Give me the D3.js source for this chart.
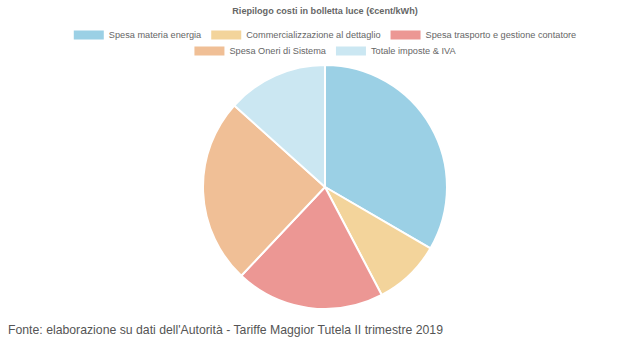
<!DOCTYPE html>
<html>
<head>
<meta charset="utf-8">
<script src="https://cdn.jsdelivr.net/npm/d3@7"></script>
<style>
  body { margin: 0; background: #fff; }
  svg { display: block; font-family: "Liberation Sans", Arial, sans-serif; }
</style>
</head>
<body>
<div id="chart"></div>
<script>
// Data (€cent/kWh)
const categories = [
    "Spesa materia energia",
    "Commercializzazione al dettaglio",
    "Spesa trasporto e gestione contatore",
    "Spesa Oneri di Sistema",
    "Totale imposte & IVA"
];
const values = [6.85, 1.83, 4.05, 5.05, 2.74];
const colors = ["#9bd0e5", "#f3d49b", "#ec9794", "#f0bf96", "#cbe7f2"];

const width = 620, height = 345;
const cx = 325, cy = 187, radius = 122;

const svg = d3.select("#chart")
    .append("svg")
    .attr("width", width)
    .attr("height", height);

// Title
svg.append("text")
    .attr("x", 325)
    .attr("y", 14)
    .attr("text-anchor", "middle")
    .attr("fill", "#666")
    .style("font-size", "9.1px")
    .style("font-weight", "bold")
    .text("Riepilogo costi in bolletta luce (€cent/kWh)");

// Legend: two centred rows like the original
const rows = [[0, 1, 2], [3, 4]];
const rowY = [35, 51];
const boxW = 30, boxH = 9, gapBox = 5, gapItem = 10;
const legend = svg.append("g").attr("class", "legend");

rows.forEach((row, r) => {
    const g = legend.append("g");
    let x = 0;
    row.forEach(i => {
        g.append("rect")
            .attr("x", x)
            .attr("y", rowY[r] - boxH / 2)
            .attr("width", boxW)
            .attr("height", boxH)
            .attr("fill", colors[i]);
        const t = g.append("text")
            .attr("x", x + boxW + gapBox)
            .attr("y", rowY[r] + 3.3)
            .attr("fill", "#666")
            .style("font-size", "9.2px")
            .text(categories[i]);
        x += boxW + gapBox + t.node().getComputedTextLength() + gapItem;
    });
    const rowWidth = x - gapItem;
    g.attr("transform", `translate(${cx - rowWidth / 2},0)`);
});

// Pie
const pie = d3.pie().sort(null).value(d => d);
const arc = d3.arc().innerRadius(0).outerRadius(radius);

svg.append("g")
    .attr("transform", `translate(${cx},${cy})`)
    .selectAll("path")
    .data(pie(values))
    .join("path")
    .attr("d", arc)
    .attr("fill", (d, i) => colors[i])
    .attr("stroke", "#fff")
    .attr("stroke-width", 2);

// Source note
svg.append("text")
    .attr("x", 8)
    .attr("y", 334)
    .attr("fill", "#555")
    .style("font-size", "12.25px")
    .text("Fonte: elaborazione su dati dell'Autorità - Tariffe Maggior Tutela II trimestre 2019");
</script>
</body>
</html>
